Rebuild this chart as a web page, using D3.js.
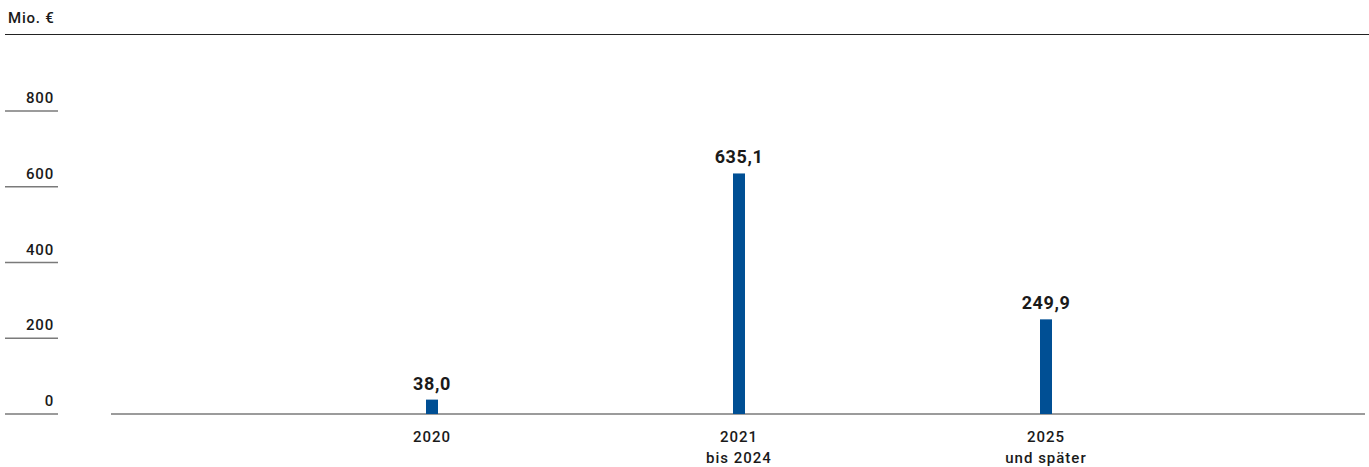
<!DOCTYPE html>
<html>
<head>
  <meta charset="utf-8">
  <title>Mio. €</title>
  <script src="https://d3js.org/d3.v7.min.js"></script>
  <style>
    body { margin: 0; background: #fff; }
    text { font-family: Roboto, "Noto Sans", sans-serif; fill: #1a1a1a; }
    .tick-line { stroke: #7a7a7a; stroke-width: 1.5px; }
  </style>
</head>
<body>
  <script>
    // Chart data
    const categories = ["2020", "2021\nbis 2024", "2025\nund später"];
    const values = [38.0, 635.1, 249.9];
    const yTicks = [0, 200, 400, 600, 800];
    const unitLabel = "Mio. €";

    const width = 1369;
    const height = 467;

    const svg = d3.create("svg")
        .attr("width", width)
        .attr("height", height);

    const y = d3.scaleLinear().domain([0, 800]).range([414, 111]);
    const x = d3.scalePoint().domain(categories).range([432, 1046]);
    const fmt = v => d3.format(".1f")(v).replace(".", ",");

    // Unit label and top rule
    svg.append("text")
        .attr("x", 8).attr("y", 23)
        .attr("font-size", 15).attr("font-weight", 500)
        .attr("letter-spacing", 0.8)
        .text(unitLabel);
    svg.append("line")
        .attr("x1", 5).attr("x2", width).attr("y1", 34.5).attr("y2", 34.5)
        .attr("stroke", "#222").attr("stroke-width", 1);

    // Y ticks: short lines with labels sitting above them
    const tick = svg.selectAll(".ytick")
        .data(yTicks)
        .join("g")
        .attr("transform", d => `translate(0,${y(d)})`);
    tick.append("line")
        .classed("tick-line", true)
        .attr("x1", 5).attr("x2", 58);
    tick.append("text")
        .attr("x", 54).attr("y", -8)
        .attr("text-anchor", "end")
        .attr("font-size", 15).attr("font-weight", 500)
        .attr("letter-spacing", 0.8)
        .text(d => d);

    // Baseline
    svg.append("line")
        .classed("tick-line", true)
        .attr("x1", 111).attr("x2", 1365)
        .attr("y1", y(0)).attr("y2", y(0));

    // Bars
    svg.selectAll(".bar")
        .data(values)
        .join("rect")
        .attr("x", (d, i) => x(categories[i]) - 6)
        .attr("width", 12)
        .attr("y", d => y(d))
        .attr("height", d => y(0) - y(d))
        .attr("fill", "#004f94");

    // Value labels
    svg.selectAll(".val")
        .data(values)
        .join("text")
        .attr("x", (d, i) => x(categories[i]))
        .attr("y", d => y(d) - 10)
        .attr("text-anchor", "middle")
        .attr("font-size", 18).attr("font-weight", 700)
        .attr("letter-spacing", 0.6)
        .text(fmt);

    // Category labels
    const cat = svg.selectAll(".cat")
        .data(categories)
        .join("text")
        .attr("x", d => x(d))
        .attr("y", 442)
        .attr("text-anchor", "middle")
        .attr("font-size", 15).attr("font-weight", 500)
        .attr("letter-spacing", 1);
    cat.selectAll("tspan")
        .data(d => d.split("\n").map(s => ({ s, x: x(d) })))
        .join("tspan")
        .attr("x", d => d.x)
        .attr("dy", (d, i) => i === 0 ? 0 : 21)
        .text(d => d.s);

    document.body.appendChild(svg.node());
  </script>
</body>
</html>
